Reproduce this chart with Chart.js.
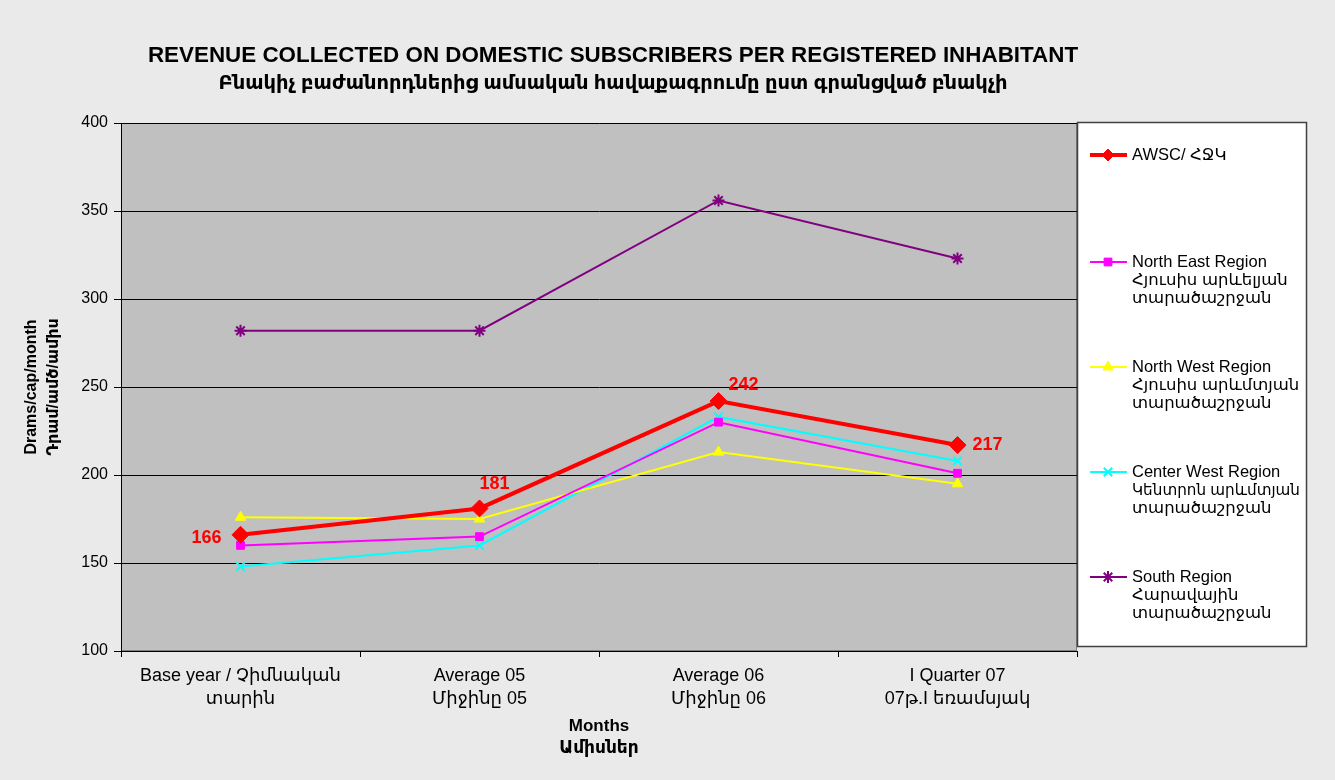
<!DOCTYPE html>
<html>
<head>
<meta charset="utf-8">
<script src="https://cdn.jsdelivr.net/npm/chart.js@4.4.1/dist/chart.umd.min.js"></script>
<style>
  html, body { margin: 0; padding: 0; background: #eaeaea; }
  #wrap { width: 1335px; height: 780px; position: relative; }
</style>
</head>
<body>
<div id="wrap"><canvas id="revChart" width="1335" height="780"></canvas></div>
<script>
// categories and series
const categories = [
    ['Base year / Չիմնական', 'տարին'],
    ['Average 05', 'Միջինը 05'],
    ['Average 06', 'Միջինը 06'],
    ['I Quarter 07', '07թ.I եռամսյակ']
];
const awsc = [166, 181, 242, 217];
const northEast = [160, 165, 230, 201];
const northWest = [176, 175, 213, 195];
const centerWest = [148, 160, 233, 208];
const south = [282, 282, 356, 323];
const yTicks = [100, 150, 200, 250, 300, 350, 400];

const legendLines = [
    ['AWSC/ ՀՋԿ'],
    ['North East Region', 'Հյուսիս արևելյան', 'տարածաշրջան'],
    ['North West Region', 'Հյուսիս արևմտյան', 'տարածաշրջան'],
    ['Center West Region', 'Կենտրոն արևմտյան', 'տարածաշրջան'],
    ['South Region', 'Հարավային', 'տարածաշրջան']
];

const FONT = 'Arial, "Liberation Sans", "Noto Sans", "DejaVu Sans", sans-serif';

// plot area fill + title + legend + value labels
const decorations = {
    id: 'decorations',
    beforeDraw(chart) {
        const { ctx, chartArea: a } = chart;
        ctx.save();
        ctx.fillStyle = '#c0c0c0';
        ctx.fillRect(a.left, a.top, a.right - a.left, a.bottom - a.top);
        ctx.strokeStyle = '#808080';
        ctx.lineWidth = 1;
        ctx.strokeRect(a.left + 0.5, a.top + 0.5, a.right - a.left - 1, a.bottom - a.top - 1);
        ctx.restore();
    },
    afterDraw(chart) {
        const { ctx } = chart;
        ctx.save();
        // title
        ctx.fillStyle = '#000';
        ctx.textAlign = 'center';
        ctx.textBaseline = 'middle';
        ctx.font = 'bold 22.4px ' + FONT;
        ctx.fillText('REVENUE COLLECTED ON DOMESTIC SUBSCRIBERS PER REGISTERED INHABITANT', 613, 56);
        ctx.font = 'bold 19.5px ' + FONT;
        ctx.fillText('Բնակիչ բաժանորդներից ամսական հավաքագրումը ըստ գրանցված բնակչի', 613, 84);

        // legend box
        const lx = 1077, ly = 122, lw = 229, lh = 524;
        ctx.fillStyle = '#ffffff';
        ctx.fillRect(lx, ly, lw, lh);
        ctx.strokeStyle = '#404040';
        ctx.lineWidth = 1.5;
        ctx.strokeRect(lx + 0.5, ly + 0.5, lw, lh);

        const rowY = [155, 262, 367, 472, 577];
        chart.data.datasets.forEach((ds, i) => {
            const y = rowY[i];
            ctx.strokeStyle = ds.borderColor;
            ctx.lineWidth = ds.borderWidth;
            ctx.beginPath();
            ctx.moveTo(1090, y);
            ctx.lineTo(1127, y);
            ctx.stroke();
            ctx.fillStyle = ds.backgroundColor;
            ctx.strokeStyle = ds.borderColor;
            ctx.lineWidth = ds.pointBorderWidth || 1;
            Chart.helpers.drawPoint(ctx, {
                pointStyle: ds.pointStyle,
                radius: i === 0 ? 6 : ds.pointRadius,
                borderWidth: ds.pointBorderWidth || 1
            }, 1108, y);
            ctx.fillStyle = '#000';
            ctx.textAlign = 'left';
            ctx.textBaseline = 'middle';
            ctx.font = '16.5px ' + FONT;
            legendLines[i].forEach((t, k) => ctx.fillText(t, 1132, y + k * 18, 168));
        });

        // value labels on the AWSC series
        const meta = chart.getDatasetMeta(0);
        const offsets = [[-19, 3, 'right'], [0, -24, 'left'], [10, -16, 'left'], [15, 0, 'left']];
        ctx.fillStyle = '#ff0000';
        ctx.font = 'bold 18px ' + FONT;
        ctx.textBaseline = 'middle';
        meta.data.forEach((pt, i) => {
            const [dx, dy, al] = offsets[i];
            ctx.textAlign = al;
            ctx.fillText(String(awsc[i]), pt.x + dx, pt.y + dy);
        });
        ctx.restore();
    }
};

new Chart(document.getElementById('revChart'), {
    type: 'line',
    data: {
        labels: categories,
        datasets: [
            { label: 'AWSC', data: awsc, borderColor: '#ff0000', backgroundColor: '#ff0000',
              borderWidth: 4, pointStyle: 'rectRot', pointRadius: 8.5, pointBorderWidth: 1 },
            { label: 'North East Region', data: northEast, borderColor: '#ff00ff', backgroundColor: '#ff00ff',
              borderWidth: 2, pointStyle: 'rect', pointRadius: 5.5, pointBorderWidth: 1 },
            { label: 'North West Region', data: northWest, borderColor: '#ffff00', backgroundColor: '#ffff00',
              borderWidth: 2, pointStyle: 'triangle', pointRadius: 6, pointBorderWidth: 1 },
            { label: 'Center West Region', data: centerWest, borderColor: '#00ffff', backgroundColor: '#00ffff',
              borderWidth: 2, pointStyle: 'crossRot', pointRadius: 6, pointBorderWidth: 2 },
            { label: 'South Region', data: south, borderColor: '#800080', backgroundColor: '#800080',
              borderWidth: 2, pointStyle: 'star', pointRadius: 6, pointBorderWidth: 2 }
        ]
    },
    options: {
        responsive: false,
        animation: false,
        layout: { padding: { top: 123, right: 258, bottom: 0, left: 0 } },
        plugins: {
            legend: { display: false },
            title: { display: false },
            tooltip: { enabled: false }
        },
        elements: { line: { tension: 0 } },
        scales: {
            x: {
                offset: true,
                afterFit(scale) { scale.height = 129; },
                grid: { offset: true, drawOnChartArea: false, drawTicks: true, tickLength: 6, color: '#000' },
                border: { color: '#000', width: 1 },
                ticks: { color: '#000', font: { family: FONT, size: 18, lineHeight: 1.25 }, padding: 8, maxRotation: 0, autoSkip: false },
                title: {
                    display: true,
                    text: ['Months', 'Ամիսներ'],
                    color: '#000',
                    font: { family: FONT, size: 17, weight: 'bold', lineHeight: 1.3 },
                    padding: { top: 0, bottom: 21 }
                }
            },
            y: {
                min: 100,
                max: 400,
                afterFit(scale) { scale.width = 121; },
                afterBuildTicks(scale) { scale.ticks = yTicks.map(v => ({ value: v })); },
                grid: { color: '#000', tickLength: 7, drawTicks: true },
                border: { color: '#000', width: 1 },
                ticks: { color: '#000', font: { family: FONT, size: 16 }, padding: 6 },
                title: {
                    display: true,
                    text: ['Drams/cap/month', 'Դրամ/ամծ/ամիս'],
                    color: '#000',
                    font: { family: FONT, size: 16, weight: 'bold', lineHeight: 1.4 },
                    padding: { top: 20, bottom: 0 }
                }
            }
        }
    },
    plugins: [decorations]
});
</script>
</body>
</html>
